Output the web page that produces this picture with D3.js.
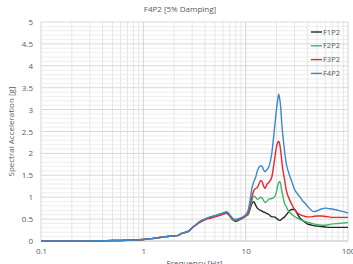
<!DOCTYPE html>
<html>
<head>
<meta charset="utf-8">
<script src="https://cdn.jsdelivr.net/npm/d3@7"></script>
<style>
  body { margin: 0; background: #fff; }
  text { font-family: "Open Sans", "Noto Sans", sans-serif; fill: #595959; }
</style>
</head>
<body>
<div id="plot"></div>
<script>
// ############ DATA ###############

const freqs = [0.1, 0.2, 0.3, 0.4, 0.5, 0.6, 0.7, 0.8, 1.0, 1.2, 1.4, 1.6, 1.8, 2.0, 2.2, 2.4, 2.6, 2.8,
  3.0, 3.3, 3.6, 4.0, 4.5, 5.0, 5.5, 6.0, 6.5, 7.0, 7.5, 8.0, 8.5, 9.0, 9.5, 10,
  10.5, 11, 11.5, 12, 12.5, 13, 13.5, 14, 14.5, 15, 15.5, 16, 17, 18, 19, 20, 20.5, 21, 21.5, 22, 22.5, 23,
  24, 25, 26, 27, 28, 30, 32, 34, 36, 38, 40, 43, 46, 50, 55, 60, 65, 70, 80, 90, 100];

const f1p2 = [0, 0.002, 0.004, 0.006, 0.01, 0.013, 0.017, 0.022, 0.035, 0.055, 0.075, 0.095, 0.11, 0.115, 0.13, 0.18, 0.2, 0.23,
  0.3, 0.38, 0.45, 0.5, 0.54, 0.57, 0.6, 0.62, 0.64, 0.57, 0.48, 0.45, 0.47, 0.5, 0.53, 0.57,
  0.6, 0.72, 0.85, 0.9, 0.82, 0.75, 0.72, 0.7, 0.68, 0.66, 0.65, 0.63, 0.6, 0.55, 0.55, 0.52, 0.5, 0.48, 0.47, 0.48, 0.5, 0.52,
  0.55, 0.6, 0.65, 0.69, 0.72, 0.72, 0.62, 0.52, 0.47, 0.43, 0.39, 0.37, 0.35, 0.34, 0.33, 0.32, 0.31, 0.31, 0.31, 0.31, 0.31];

const f2p2 = [0, 0.002, 0.004, 0.006, 0.01, 0.013, 0.017, 0.022, 0.035, 0.055, 0.075, 0.095, 0.11, 0.115, 0.13, 0.18, 0.2, 0.23,
  0.3, 0.38, 0.45, 0.5, 0.54, 0.57, 0.6, 0.63, 0.65, 0.58, 0.49, 0.47, 0.49, 0.51, 0.54, 0.57,
  0.6, 0.75, 0.92, 1.02, 1.0, 0.95, 0.97, 1.0, 0.98, 0.92, 0.88, 0.9, 0.96, 0.97, 1.0, 1.12, 1.25, 1.33, 1.36, 1.3, 1.15, 1.05,
  0.85, 0.78, 0.7, 0.65, 0.62, 0.56, 0.52, 0.49, 0.47, 0.45, 0.43, 0.41, 0.39, 0.37, 0.36, 0.36, 0.37, 0.39, 0.4, 0.41, 0.42];

const f3p2 = [0, 0.002, 0.004, 0.006, 0.01, 0.013, 0.017, 0.022, 0.035, 0.055, 0.075, 0.095, 0.11, 0.115, 0.13, 0.18, 0.2, 0.23,
  0.3, 0.37, 0.43, 0.48, 0.52, 0.55, 0.58, 0.61, 0.64, 0.58, 0.5, 0.48, 0.5, 0.52, 0.55, 0.58,
  0.62, 0.8, 1.0, 1.15, 1.2, 1.22, 1.3, 1.38, 1.35, 1.25, 1.2, 1.28, 1.35, 1.46, 1.8, 2.15, 2.24, 2.28, 2.22, 2.05, 1.85, 1.65,
  1.4, 1.15, 1.02, 0.93, 0.85, 0.72, 0.64, 0.6, 0.58, 0.56, 0.55, 0.55, 0.56, 0.57, 0.57, 0.56, 0.55, 0.54, 0.54, 0.54, 0.54];

const f4p2 = [0, 0.002, 0.004, 0.006, 0.01, 0.013, 0.017, 0.022, 0.035, 0.055, 0.075, 0.095, 0.11, 0.115, 0.13, 0.18, 0.2, 0.23,
  0.3, 0.38, 0.45, 0.5, 0.55, 0.58, 0.61, 0.64, 0.67, 0.6, 0.51, 0.49, 0.51, 0.53, 0.56, 0.6,
  0.68, 0.9, 1.2, 1.35, 1.45, 1.6, 1.68, 1.72, 1.7, 1.62, 1.58, 1.62, 1.72, 2.0, 2.5, 3.0, 3.2, 3.35, 3.25, 3.05, 2.7, 2.45,
  2.05, 1.75, 1.6, 1.48, 1.38, 1.18, 1.08, 1.0, 0.92, 0.86, 0.8, 0.72, 0.67, 0.69, 0.73, 0.75, 0.74, 0.73, 0.7, 0.67, 0.64];

const seriesNames = ["F1P2", "F2P2", "F3P2", "F4P2"];
const seriesValues = [f1p2, f2p2, f3p2, f4p2];
const seriesColors = ["#262626", "#3cb868", "#e8272c", "#3a89c9"];

const xTicks = [0.1, 1, 10, 100];
const yTicks = [0, 0.5, 1, 1.5, 2, 2.5, 3, 3.5, 4, 4.5, 5];

// ############ SETUP ###############

const w = 353, h = 264;
const margin = {top: 22, right: 5, bottom: 23, left: 41};
const innerWidth = w - margin.left - margin.right;
const innerHeight = h - margin.top - margin.bottom;

const xScale = d3.scaleLog().domain([0.1, 100]).range([0, innerWidth]);
const yScale = d3.scaleLinear().domain([0, 5]).range([innerHeight, 0]);

const svg = d3.select("div#plot")
  .append("svg")
  .attr("width", w)
  .attr("height", h);

svg.append("text")
  .attr("x", 180)
  .attr("y", 12)
  .attr("text-anchor", "middle")
  .attr("font-size", 8)
  .text("F4P2 [5% Damping]");

const plot = svg.append("g")
  .attr("id", "plotarea")
  .attr("transform", `translate(${margin.left}, ${margin.top})`);

// minor grid (y every 0.1, x log minors)
plot.append("g")
  .selectAll("line")
  .data(d3.range(1, 50).filter(i => i % 5 != 0).map(i => i / 10))
  .enter()
  .append("line")
    .attr("x1", 0).attr("x2", innerWidth)
    .attr("y1", d => yScale(d)).attr("y2", d => yScale(d))
    .attr("stroke", "#eeeeee");

plot.append("g")
  .selectAll("line")
  .data(xScale.ticks().filter(d => !xTicks.includes(d)))
  .enter()
  .append("line")
    .attr("x1", d => xScale(d)).attr("x2", d => xScale(d))
    .attr("y1", 0).attr("y2", innerHeight)
    .attr("stroke", "#e6e6e6");

// major grid
plot.append("g")
  .selectAll("line")
  .data(yTicks)
  .enter()
  .append("line")
    .attr("x1", 0).attr("x2", innerWidth)
    .attr("y1", d => yScale(d)).attr("y2", d => yScale(d))
    .attr("stroke", d => d == 0 ? "#bfbfbf" : "#d9d9d9");

plot.append("g")
  .selectAll("line")
  .data(xTicks)
  .enter()
  .append("line")
    .attr("x1", d => xScale(d)).attr("x2", d => xScale(d))
    .attr("y1", 0).attr("y2", innerHeight)
    .attr("stroke", "#d4d4d4");

// axes (labels only)
const xAxis = d3.axisBottom(xScale).tickValues(xTicks).tickSize(0).tickPadding(7)
  .tickFormat(d3.format("~g"));
const yAxis = d3.axisLeft(yScale).tickValues(yTicks).tickSize(0).tickPadding(8)
  .tickFormat(d3.format("~g"));

plot.append("g")
  .attr("id", "xaxis")
  .attr("transform", `translate(0, ${innerHeight})`)
  .call(xAxis)
  .attr("font-size", 8)
  .call(g => g.select(".domain").remove());

plot.append("g")
  .attr("id", "yaxis")
  .call(yAxis)
  .attr("font-size", 8)
  .call(g => g.select(".domain").remove());

// x title sits partly below the bottom edge, as in the reference
svg.append("text")
  .attr("x", margin.left + innerWidth / 2)
  .attr("y", 266)
  .attr("text-anchor", "middle")
  .attr("font-size", 8)
  .text("Frequency [Hz]");

svg.append("text")
  .attr("transform", `translate(14, ${margin.top + innerHeight / 2}) rotate(-90)`)
  .attr("text-anchor", "middle")
  .attr("font-size", 8)
  .text("Spectral Acceleration [g]");

// lines
const line = d3.line()
  .x((d, i) => xScale(freqs[i]))
  .y(d => yScale(d))
  .curve(d3.curveMonotoneX);

plot.append("g")
  .attr("id", "lines")
  .selectAll("path")
  .data(seriesValues)
  .enter()
  .append("path")
    .attr("d", line)
    .attr("fill", "none")
    .attr("stroke", (d, i) => seriesColors[i])
    .attr("stroke-width", 1.4);

// legend
const legend = svg.append("g")
  .attr("transform", "translate(311, 32)");

legend.selectAll("line")
  .data(seriesNames)
  .enter()
  .append("line")
    .attr("x1", 0).attr("x2", 11)
    .attr("y1", (d, i) => i * 13.8).attr("y2", (d, i) => i * 13.8)
    .attr("stroke", (d, i) => seriesColors[i])
    .attr("stroke-width", 1.4);

legend.selectAll("text")
  .data(seriesNames)
  .enter()
  .append("text")
    .attr("x", 12)
    .attr("y", (d, i) => i * 13.8)
    .attr("dy", "0.35em")
    .attr("font-size", 7.5)
    .text(d => d);
</script>
</body>
</html>
